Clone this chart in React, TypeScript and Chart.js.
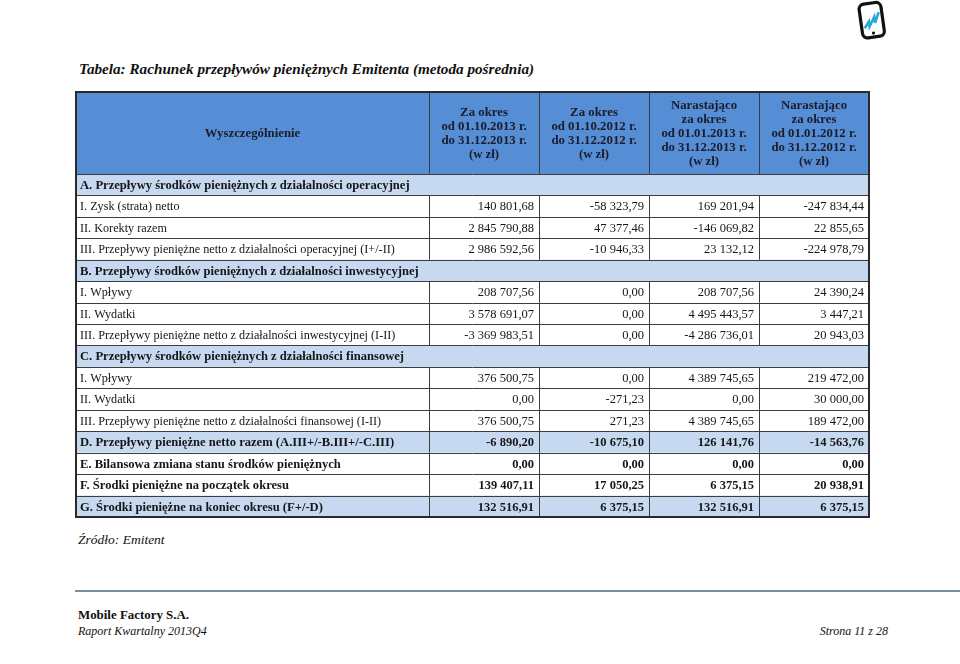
import React, { useEffect, useRef } from "react";
import { Chart, registerables } from "chart.js";
Chart.register(...registerables);

// ---------- data ----------
const titleText = "Tabela: Rachunek przepływów pieniężnych Emitenta (metoda pośrednia)";
const firstHeader = "Wyszczególnienie";
const columnHeaders: string[][] = [
  ["Za okres", "od 01.10.2013 r.", "do 31.12.2013 r.", "(w zł)"],
  ["Za okres", "od 01.10.2012 r.", "do 31.12.2012 r.", "(w zł)"],
  ["Narastająco", "za okres", "od 01.01.2013 r.", "do 31.12.2013 r.", "(w zł)"],
  ["Narastająco", "za okres", "od 01.01.2012 r.", "do 31.12.2012 r.", "(w zł)"],
];
const rowLabels = [
  "A. Przepływy środków pieniężnych z działalności operacyjnej",
  "I. Zysk (strata) netto",
  "II. Korekty razem",
  "III. Przepływy pieniężne netto z działalności operacyjnej (I+/-II)",
  "B. Przepływy środków pieniężnych z działalności inwestycyjnej",
  "I. Wpływy",
  "II. Wydatki",
  "III. Przepływy pieniężne netto z działalności inwestycyjnej (I-II)",
  "C. Przepływy środków pieniężnych z działalności finansowej",
  "I. Wpływy",
  "II. Wydatki",
  "III. Przepływy pieniężne netto z działalności finansowej (I-II)",
  "D. Przepływy pieniężne netto razem (A.III+/-B.III+/-C.III)",
  "E. Bilansowa zmiana stanu środków pieniężnych",
  "F. Środki pieniężne na początek okresu",
  "G. Środki pieniężne na koniec okresu (F+/-D)",
];
const rowTypes = [
  "section", "item", "item", "item",
  "section", "item", "item", "item",
  "section", "item", "item", "item",
  "totalShaded", "total", "total", "totalShaded",
];
const q4_2013: (number | null)[] = [null, 140801.68, 2845790.88, 2986592.56, null, 208707.56, 3578691.07, -3369983.51, null, 376500.75, 0, 376500.75, -6890.2, 0, 139407.11, 132516.91];
const q4_2012: (number | null)[] = [null, -58323.79, 47377.46, -10946.33, null, 0, 0, 0, null, 0, -271.23, 271.23, -10675.1, 0, 17050.25, 6375.15];
const ytd_2013: (number | null)[] = [null, 169201.94, -146069.82, 23132.12, null, 208707.56, 4495443.57, -4286736.01, null, 4389745.65, 0, 4389745.65, 126141.76, 0, 6375.15, 132516.91];
const ytd_2012: (number | null)[] = [null, -247834.44, 22855.65, -224978.79, null, 24390.24, 3447.21, 20943.03, null, 219472.0, 30000.0, 189472.0, -14563.76, 0, 20938.91, 6375.15];
const valueColumns = [q4_2013, q4_2012, ytd_2013, ytd_2012];

const sourceText = "Źródło: Emitent";
const footerCompany = "Mobile Factory S.A.";
const footerReport = "Raport Kwartalny 2013Q4";
const footerPage = "Strona 11 z 28";

// ---------- layout ----------
const COL_W = [353, 110, 110, 110, 110];
const HEADER_H = 82;
const ROW_H = 21.44;
const TABLE_W = COL_W.reduce((a, b) => a + b, 0);
const TABLE_H = HEADER_H + ROW_H * rowLabels.length;
const PAD = 6;

const BLUE = "#558ed5";
const LIGHT = "#c6d9f1";
const LINE = "#3c3c3c";
const SERIF = "'Liberation Serif', 'DejaVu Serif', serif";

function fmt(v: number): string {
  const neg = v < 0;
  const [i, d] = Math.abs(v).toFixed(2).split(".");
  const g = i.replace(/\B(?=(\d{3})+(?!\d))/g, " ");
  return (neg ? "-" : "") + g + "," + d;
}

const tablePlugin = {
  id: "tableDraw",
  afterDraw(chart: any) {
    const ctx: CanvasRenderingContext2D = chart.ctx;
    const xs = chart.scales.x;
    const ys = chart.scales.y;
    const X = (v: number) => xs.getPixelForValue(v);
    const Y = (v: number) => ys.getPixelForValue(v);
    const colEdges = [0];
    COL_W.forEach((w) => colEdges.push(colEdges[colEdges.length - 1] + w));
    const rowEdges = [0, HEADER_H];
    rowLabels.forEach(() => rowEdges.push(rowEdges[rowEdges.length - 1] + ROW_H));
    const r = (p: number) => Math.round(p) + 0.5;

    ctx.save();
    // backgrounds
    ctx.fillStyle = BLUE;
    ctx.fillRect(X(0), Y(0), X(TABLE_W) - X(0), Y(HEADER_H) - Y(0));
    rowTypes.forEach((t, i) => {
      if (t === "section" || t === "totalShaded") {
        ctx.fillStyle = LIGHT;
        ctx.fillRect(X(0), Y(rowEdges[i + 1]), X(TABLE_W) - X(0), Y(rowEdges[i + 2]) - Y(rowEdges[i + 1]));
      }
    });
    // horizontal lines
    ctx.strokeStyle = LINE;
    ctx.lineWidth = 1;
    ctx.beginPath();
    for (let k = 1; k < rowEdges.length - 1; k++) {
      const y = r(Y(rowEdges[k]));
      ctx.moveTo(X(0), y);
      ctx.lineTo(X(TABLE_W), y);
    }
    // vertical dividers
    for (let c = 1; c < colEdges.length - 1; c++) {
      const x = r(X(colEdges[c]));
      ctx.moveTo(x, Y(0));
      ctx.lineTo(x, Y(HEADER_H));
      rowTypes.forEach((t, i) => {
        if (t !== "section") {
          ctx.moveTo(x, Y(rowEdges[i + 1]));
          ctx.lineTo(x, Y(rowEdges[i + 2]));
        }
      });
    }
    ctx.stroke();
    // outer border
    ctx.lineWidth = 2;
    ctx.strokeStyle = "#2a2a2a";
    ctx.strokeRect(Math.round(X(0)), Math.round(Y(0)), Math.round(X(TABLE_W) - X(0)), Math.round(Y(TABLE_H) - Y(0)));

    // header text
    ctx.fillStyle = "#1b1b2c";
    ctx.textAlign = "center";
    ctx.textBaseline = "middle";
    ctx.font = `bold 12.8px ${SERIF}`;
    const hc = (Y(0) + Y(HEADER_H)) / 2 + 1;
    ctx.fillText(firstHeader, (X(colEdges[0]) + X(colEdges[1])) / 2, hc);
    columnHeaders.forEach((lines, c) => {
      const cx = (X(colEdges[c + 1]) + X(colEdges[c + 2])) / 2;
      const lh = 14;
      const start = hc - ((lines.length - 1) * lh) / 2;
      lines.forEach((ln, j) => ctx.fillText(ln, cx, start + j * lh));
    });

    // body
    rowLabels.forEach((lab, i) => {
      const t = rowTypes[i];
      const bold = t !== "item";
      const cy = (Y(rowEdges[i + 1]) + Y(rowEdges[i + 2])) / 2 + 1;
      ctx.fillStyle = "#161616";
      ctx.font = `${bold ? "bold " : ""}${bold ? 12.6 : 12.2}px ${SERIF}`;
      ctx.textAlign = "left";
      ctx.fillText(lab, X(0) + 4, cy);
      if (t === "section") return;
      ctx.textAlign = "right";
      ctx.font = `${bold ? "bold " : ""}12.5px ${SERIF}`;
      valueColumns.forEach((col, c) => {
        const v = col[i];
        if (v === null || v === undefined) return;
        ctx.fillText(fmt(v), X(colEdges[c + 2]) - 5, cy);
      });
    });
    ctx.restore();
  },
};

function TableChart() {
  const ref = useRef<HTMLCanvasElement | null>(null);
  useEffect(() => {
    if (!ref.current) return;
    const chart = new Chart(ref.current, {
      type: "scatter",
      data: { datasets: [{ data: [], pointRadius: 0 }] },
      options: {
        animation: false,
        responsive: false,
        devicePixelRatio: 1,
        layout: { padding: PAD },
        plugins: { legend: { display: false }, tooltip: { enabled: false } },
        scales: {
          x: { type: "linear", min: 0, max: TABLE_W, display: false },
          y: { type: "linear", min: 0, max: TABLE_H, reverse: true, display: false },
        },
      },
      plugins: [tablePlugin],
    } as any);
    return () => chart.destroy();
  }, []);
  const w = TABLE_W + PAD * 2;
  const h = Math.round(TABLE_H) + PAD * 2;
  return (
    <canvas
      ref={ref}
      width={w}
      height={h}
      style={{ position: "absolute", left: 76 - PAD, top: 92 - PAD, width: w, height: h }}
    />
  );
}

function Logo() {
  return (
    <svg width="40" height="44" viewBox="0 0 40 44" style={{ position: "absolute", left: 853, top: 0 }}>
      <g transform="rotate(-8 20 22)">
        <rect x="8" y="3" width="22" height="34" rx="5" ry="5" fill="none" stroke="#111" strokeWidth="3.2" />
        <polyline points="11,27 16,21 16,26 22,17 22,23 27,13" fill="none" stroke="#29a8d6" strokeWidth="2.6" />
        <circle cx="19" cy="33" r="1.6" fill="#111" />
      </g>
    </svg>
  );
}

const txt = (extra: React.CSSProperties): React.CSSProperties => ({
  position: "absolute",
  fontFamily: SERIF,
  color: "#111",
  whiteSpace: "nowrap",
  lineHeight: "16px",
  ...extra,
});

export default function App() {
  return (
    <div style={{ position: "absolute", left: 0, top: 0, width: 960, height: 664, background: "#fff", overflow: "hidden" }}>
      <Logo />
      <div style={txt({ left: 79, top: 61, fontWeight: "bold", fontStyle: "italic", fontSize: 15.2 })}>{titleText}</div>
      <TableChart />
      <div style={txt({ left: 78, top: 532, fontStyle: "italic", fontSize: 13.5 })}>{sourceText}</div>
      <div style={{ position: "absolute", left: 75, top: 590, width: 885, height: 2, background: "#7d8ca3" }} />
      <div style={txt({ left: 78, top: 607, fontWeight: "bold", fontSize: 12.9 })}>{footerCompany}</div>
      <div style={txt({ left: 78, top: 623, fontStyle: "italic", fontSize: 12 })}>{footerReport}</div>
      <div style={txt({ right: 72, top: 623, fontStyle: "italic", fontSize: 12 })}>{footerPage}</div>
    </div>
  );
}
